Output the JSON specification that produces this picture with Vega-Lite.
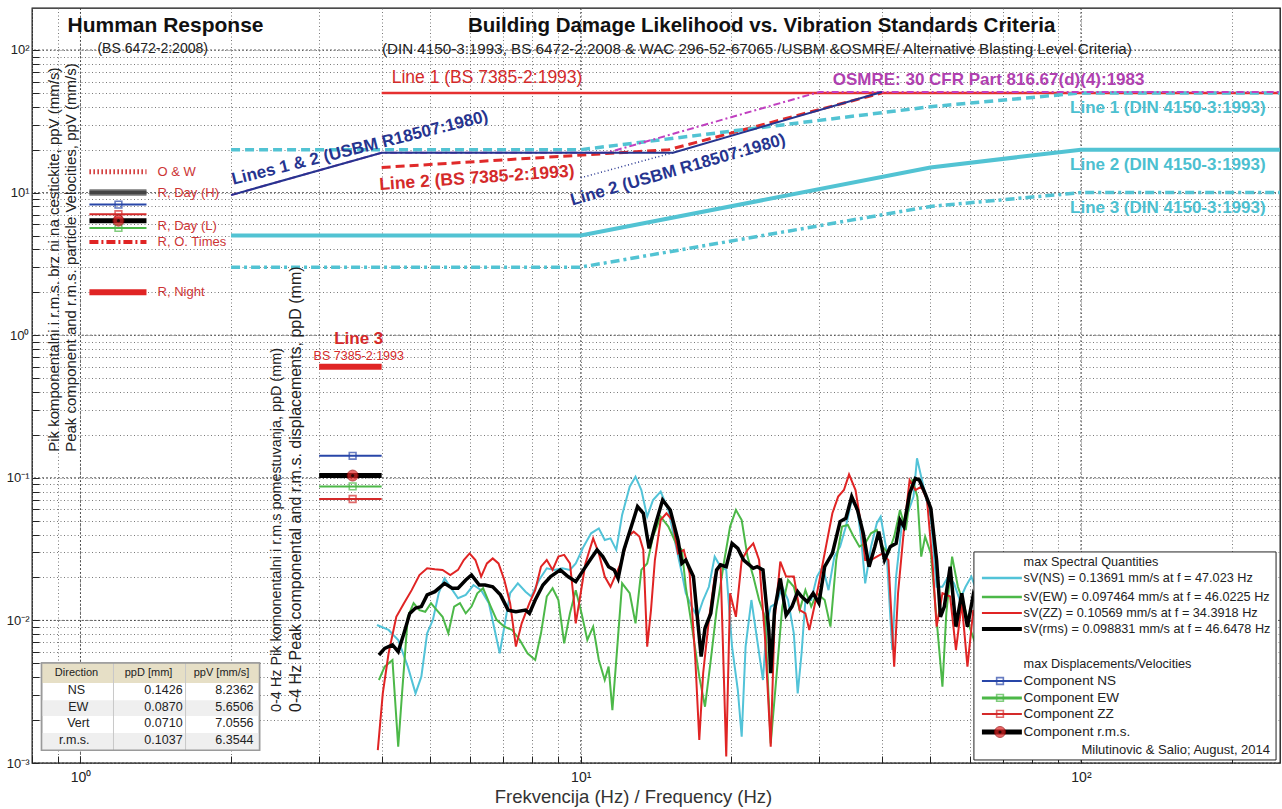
{
"$schema": "https://vega.github.io/schema/vega-lite/v6.json",
"width": 1248, "height": 755,
"autosize": {"type": "none"},
"padding": {"left": 32, "top": 8, "right": 2, "bottom": 46},
"background": "white",
"config": {"view": {"stroke": "#111", "strokeWidth": 1.3}, "font": "Liberation Sans"},
"data": {"values": [{}]},
"datasets": {
"decY": [{"d":0.001},{"d":0.01},{"d":0.1},{"d":1},{"d":10},{"d":100}],
"decX": [{"d":1},{"d":10},{"d":100}],
"tbl": [
{"c":"NS","ppD":0.1426,"ppV":8.2362},
{"c":"EW","ppD":0.0870,"ppV":5.6506},
{"c":"Vert","ppD":0.0710,"ppV":7.0556},
{"c":"r.m.s.","ppD":0.1037,"ppV":6.3544}
],
"hr": [
{"r":"O & W","v":14},
{"r":"R, Day (H)","v":10},
{"r":"R, Day (L)","v":5.8},
{"r":"R, O. Times","v":4.5},
{"r":"R, Night","v":2}
],
"crit": [
{"s":"BS1","f":4,"v":50},{"s":"BS1","f":250,"v":50},
{"s":"OSMRE","f":2,"v":9.6},{"s":"OSMRE","f":4,"v":19.05},{"s":"OSMRE","f":11.3,"v":19.05},{"s":"OSMRE","f":30,"v":50.8},{"s":"OSMRE","f":250,"v":50.8},
{"s":"USBM1","f":2,"v":9.6},{"s":"USBM1","f":4,"v":19.05},{"s":"USBM1","f":15.3,"v":19.05},{"s":"USBM1","f":40,"v":50.8},
{"s":"USBM2","f":10,"v":12.7},{"s":"USBM2","f":15.3,"v":19.05},
{"s":"BS2","f":4,"v":15},{"s":"BS2","f":15,"v":20},{"s":"BS2","f":40,"v":50},
{"s":"DIN1","f":2,"v":20},{"s":"DIN1","f":10,"v":20},{"s":"DIN1","f":50,"v":40},{"s":"DIN1","f":100,"v":50},{"s":"DIN1","f":250,"v":50},
{"s":"DIN2","f":2,"v":5},{"s":"DIN2","f":10,"v":5},{"s":"DIN2","f":50,"v":15},{"s":"DIN2","f":100,"v":20},{"s":"DIN2","f":250,"v":20},
{"s":"DIN3","f":2,"v":3},{"s":"DIN3","f":10,"v":3},{"s":"DIN3","f":50,"v":8},{"s":"DIN3","f":100,"v":10},{"s":"DIN3","f":250,"v":10},
{"s":"BS3","f":3,"v":0.6},{"s":"BS3","f":4,"v":0.6}
],
"spec": [
{"c":"NS","f":3.915,"v":0.00929},{"c":"NS","f":4.130,"v":0.00857},{"c":"NS","f":4.317,"v":0.00729},{"c":"NS","f":4.512,"v":0.00474},{"c":"NS","f":4.676,"v":0.00308},{"c":"NS","f":4.802,"v":0.00403},{"c":"NS","f":4.932,"v":0.00812},{"c":"NS","f":5.065,"v":0.0101},{"c":"NS","f":5.202,"v":0.0155},{"c":"NS","f":5.342,"v":0.0197},{"c":"NS","f":5.486,"v":0.0172},{"c":"NS","f":5.685,"v":0.0143},{"c":"NS","f":5.891,"v":0.0151},{"c":"NS","f":6.104,"v":0.0177},{"c":"NS","f":6.324,"v":0.0163},{"c":"NS","f":6.553,"v":0.0132},{"c":"NS","f":6.730,"v":0.00857},{"c":"NS","f":6.888,"v":0.00588},{"c":"NS","f":7.036,"v":0.00904},{"c":"NS","f":7.226,"v":0.0155},{"c":"NS","f":7.487,"v":0.0182},{"c":"NS","f":7.758,"v":0.0159},{"c":"NS","f":7.967,"v":0.0147},{"c":"NS","f":8.256,"v":0.0192},{"c":"NS","f":8.554,"v":0.0232},{"c":"NS","f":8.863,"v":0.0226},{"c":"NS","f":9.186,"v":0.0232},{"c":"NS","f":9.517,"v":0.0226},{"c":"NS","f":9.775,"v":0.0251},{"c":"NS","f":10.13,"v":0.0329},{"c":"NS","f":10.49,"v":0.0408},{"c":"NS","f":10.87,"v":0.0442},{"c":"NS","f":11.17,"v":0.0366},{"c":"NS","f":11.47,"v":0.0376},{"c":"NS","f":11.78,"v":0.0312},{"c":"NS","f":12.10,"v":0.0549},{"c":"NS","f":12.53,"v":0.0867},{"c":"NS","f":12.87,"v":0.1019},{"c":"NS","f":13.22,"v":0.0821},{"c":"NS","f":13.58,"v":0.0534},{"c":"NS","f":13.95,"v":0.0699},{"c":"NS","f":14.45,"v":0.0799},{"c":"NS","f":14.97,"v":0.0595},{"c":"NS","f":15.51,"v":0.0329},{"c":"NS","f":15.93,"v":0.0214},{"c":"NS","f":16.22,"v":0.0155},{"c":"NS","f":16.66,"v":0.0125},{"c":"NS","f":17.11,"v":0.0106},{"c":"NS","f":17.57,"v":0.0139},{"c":"NS","f":18.04,"v":0.0172},{"c":"NS","f":18.53,"v":0.0280},{"c":"NS","f":19.03,"v":0.0238},{"c":"NS","f":19.54,"v":0.0226},{"c":"NS","f":20.07,"v":0.00655},{"c":"NS","f":20.61,"v":0.00325},{"c":"NS","f":20.98,"v":0.00153},{"c":"NS","f":21.36,"v":0.00655},{"c":"NS","f":21.94,"v":0.0139},{"c":"NS","f":22.53,"v":0.00729},{"c":"NS","f":23.14,"v":0.00382},{"c":"NS","f":23.55,"v":0.00954},{"c":"NS","f":23.98,"v":0.0125},{"c":"NS","f":24.62,"v":0.0132},{"c":"NS","f":25.29,"v":0.0172},{"c":"NS","f":25.97,"v":0.0139},{"c":"NS","f":26.67,"v":0.00812},{"c":"NS","f":27.15,"v":0.00308},{"c":"NS","f":27.64,"v":0.00588},{"c":"NS","f":28.13,"v":0.0139},{"c":"NS","f":28.89,"v":0.0139},{"c":"NS","f":29.67,"v":0.0203},{"c":"NS","f":30.47,"v":0.0238},{"c":"NS","f":31.29,"v":0.0163},{"c":"NS","f":32.14,"v":0.0280},{"c":"NS","f":33.00,"v":0.0329},{"c":"NS","f":33.89,"v":0.0455},{"c":"NS","f":34.81,"v":0.0699},{"c":"NS","f":35.75,"v":0.0595},{"c":"NS","f":36.39,"v":0.0366},{"c":"NS","f":37.04,"v":0.0182},{"c":"NS","f":38.05,"v":0.0329},{"c":"NS","f":39.08,"v":0.0480},{"c":"NS","f":39.78,"v":0.0534},{"c":"NS","f":40.85,"v":0.0312},{"c":"NS","f":41.96,"v":0.00620},{"c":"NS","f":42.71,"v":0.0203},{"c":"NS","f":43.87,"v":0.0480},{"c":"NS","f":45.05,"v":0.0564},{"c":"NS","f":46.27,"v":0.0738},{"c":"NS","f":47.02,"v":0.1369},{"c":"NS","f":48.1,"v":0.0965},{"c":"NS","f":50.11,"v":0.0520},{"c":"NS","f":51.46,"v":0.0172},{"c":"NS","f":52.86,"v":0.0172},{"c":"NS","f":54.30,"v":0.0203},{"c":"NS","f":55.75,"v":0.0182},{"c":"NS","f":57.26,"v":0.0139},{"c":"NS","f":58.80,"v":0.0172},{"c":"NS","f":60.39,"v":0.0203},{"c":"NS","f":61.47,"v":0.0172},
{"c":"EW","f":3.950,"v":0.00382},{"c":"EW","f":4.056,"v":0.00474},{"c":"EW","f":4.204,"v":0.00528},{"c":"EW","f":4.317,"v":0.00130},{"c":"EW","f":4.394,"v":0.00308},{"c":"EW","f":4.512,"v":0.0106},{"c":"EW","f":4.634,"v":0.0132},{"c":"EW","f":4.760,"v":0.0118},{"c":"EW","f":4.889,"v":0.0115},{"c":"EW","f":5.020,"v":0.0132},{"c":"EW","f":5.156,"v":0.0118},{"c":"EW","f":5.295,"v":0.0106},{"c":"EW","f":5.437,"v":0.00812},{"c":"EW","f":5.585,"v":0.0125},{"c":"EW","f":5.736,"v":0.0132},{"c":"EW","f":5.891,"v":0.0112},{"c":"EW","f":6.049,"v":0.0125},{"c":"EW","f":6.213,"v":0.0155},{"c":"EW","f":6.381,"v":0.0168},{"c":"EW","f":6.610,"v":0.0125},{"c":"EW","f":6.790,"v":0.0101},{"c":"EW","f":7.036,"v":0.00904},{"c":"EW","f":7.291,"v":0.00857},{"c":"EW","f":7.554,"v":0.00729},{"c":"EW","f":7.827,"v":0.00588},{"c":"EW","f":8.110,"v":0.00528},{"c":"EW","f":8.329,"v":0.00812},{"c":"EW","f":8.554,"v":0.0147},{"c":"EW","f":8.786,"v":0.0168},{"c":"EW","f":9.024,"v":0.0139},{"c":"EW","f":9.267,"v":0.00691},{"c":"EW","f":9.517,"v":0.0112},{"c":"EW","f":9.775,"v":0.0163},{"c":"EW","f":10.04,"v":0.0112},{"c":"EW","f":10.31,"v":0.00729},{"c":"EW","f":10.59,"v":0.00904},{"c":"EW","f":10.87,"v":0.00528},{"c":"EW","f":11.17,"v":0.00382},{"c":"EW","f":11.37,"v":0.00474},{"c":"EW","f":11.57,"v":0.00235},{"c":"EW","f":11.78,"v":0.00528},{"c":"EW","f":12.10,"v":0.0182},{"c":"EW","f":12.53,"v":0.0155},{"c":"EW","f":12.87,"v":0.00954},{"c":"EW","f":13.22,"v":0.0226},{"c":"EW","f":13.58,"v":0.0251},{"c":"EW","f":13.95,"v":0.0387},{"c":"EW","f":14.45,"v":0.0534},{"c":"EW","f":14.97,"v":0.0455},{"c":"EW","f":15.51,"v":0.0347},{"c":"EW","f":15.93,"v":0.0312},{"c":"EW","f":16.22,"v":0.0172},{"c":"EW","f":16.80,"v":0.00769},{"c":"EW","f":17.26,"v":0.00403},{"c":"EW","f":17.72,"v":0.00248},{"c":"EW","f":18.20,"v":0.00528},{"c":"EW","f":18.69,"v":0.0118},{"c":"EW","f":19.37,"v":0.0265},{"c":"EW","f":19.89,"v":0.0455},{"c":"EW","f":20.43,"v":0.0595},{"c":"EW","f":20.98,"v":0.0506},{"c":"EW","f":21.55,"v":0.0280},{"c":"EW","f":22.13,"v":0.0203},{"c":"EW","f":22.73,"v":0.0139},{"c":"EW","f":23.35,"v":0.0106},{"c":"EW","f":23.98,"v":0.00137},{"c":"EW","f":24.62,"v":0.00403},{"c":"EW","f":25.29,"v":0.0125},{"c":"EW","f":25.97,"v":0.0192},{"c":"EW","f":26.67,"v":0.0172},{"c":"EW","f":27.40,"v":0.0118},{"c":"EW","f":28.13,"v":0.0163},{"c":"EW","f":28.89,"v":0.0125},{"c":"EW","f":29.67,"v":0.0155},{"c":"EW","f":30.74,"v":0.0139},{"c":"EW","f":31.57,"v":0.00904},{"c":"EW","f":32.42,"v":0.0265},{"c":"EW","f":33.30,"v":0.0455},{"c":"EW","f":34.20,"v":0.0467},{"c":"EW","f":35.12,"v":0.0387},{"c":"EW","f":36.07,"v":0.0329},{"c":"EW","f":37.04,"v":0.0347},{"c":"EW","f":38.05,"v":0.0408},{"c":"EW","f":39.08,"v":0.0430},{"c":"EW","f":40.13,"v":0.0329},{"c":"EW","f":41.22,"v":0.0295},{"c":"EW","f":42.33,"v":0.0387},{"c":"EW","f":43.48,"v":0.0595},{"c":"EW","f":44.65,"v":0.0430},{"c":"EW","f":46.02,"v":0.0975},{"c":"EW","f":47.10,"v":0.0738},{"c":"EW","f":47.94,"v":0.0280},{"c":"EW","f":48.81,"v":0.0387},{"c":"EW","f":50.11,"v":0.0295},{"c":"EW","f":51.46,"v":0.0101},{"c":"EW","f":52.86,"v":0.00343},{"c":"EW","f":53.81,"v":0.0112},{"c":"EW","f":55.27,"v":0.0280},{"c":"EW","f":56.76,"v":0.0172},{"c":"EW","f":58.28,"v":0.0132},{"c":"EW","f":59.85,"v":0.00904},{"c":"EW","f":61.47,"v":0.00691},
{"c":"Vert","f":3.93,"v":0.00123},{"c":"Vert","f":4.021,"v":0.00308},{"c":"Vert","f":4.130,"v":0.00588},{"c":"Vert","f":4.279,"v":0.0106},{"c":"Vert","f":4.433,"v":0.0132},{"c":"Vert","f":4.593,"v":0.0163},{"c":"Vert","f":4.760,"v":0.0208},{"c":"Vert","f":4.932,"v":0.0232},{"c":"Vert","f":5.110,"v":0.0228},{"c":"Vert","f":5.295,"v":0.0226},{"c":"Vert","f":5.486,"v":0.0208},{"c":"Vert","f":5.685,"v":0.0226},{"c":"Vert","f":5.838,"v":0.0265},{"c":"Vert","f":5.996,"v":0.0295},{"c":"Vert","f":6.158,"v":0.0265},{"c":"Vert","f":6.324,"v":0.0203},{"c":"Vert","f":6.494,"v":0.0251},{"c":"Vert","f":6.670,"v":0.0272},{"c":"Vert","f":6.850,"v":0.0251},{"c":"Vert","f":7.036,"v":0.0192},{"c":"Vert","f":7.226,"v":0.0132},{"c":"Vert","f":7.421,"v":0.00655},{"c":"Vert","f":7.621,"v":0.00954},{"c":"Vert","f":7.897,"v":0.0132},{"c":"Vert","f":8.110,"v":0.0163},{"c":"Vert","f":8.329,"v":0.0238},{"c":"Vert","f":8.554,"v":0.0265},{"c":"Vert","f":8.786,"v":0.0226},{"c":"Vert","f":9.024,"v":0.0280},{"c":"Vert","f":9.267,"v":0.0288},{"c":"Vert","f":9.517,"v":0.0251},{"c":"Vert","f":9.687,"v":0.0139},{"c":"Vert","f":9.775,"v":0.00954},{"c":"Vert","f":9.949,"v":0.0139},{"c":"Vert","f":10.22,"v":0.0251},{"c":"Vert","f":10.59,"v":0.0376},{"c":"Vert","f":10.87,"v":0.0295},{"c":"Vert","f":11.17,"v":0.0203},{"c":"Vert","f":11.47,"v":0.0172},{"c":"Vert","f":11.78,"v":0.0214},{"c":"Vert","f":12.10,"v":0.0265},{"c":"Vert","f":12.42,"v":0.0387},{"c":"Vert","f":12.76,"v":0.0419},{"c":"Vert","f":13.10,"v":0.0387},{"c":"Vert","f":13.34,"v":0.0312},{"c":"Vert","f":13.58,"v":0.00655},{"c":"Vert","f":13.82,"v":0.0118},{"c":"Vert","f":14.07,"v":0.0265},{"c":"Vert","f":14.45,"v":0.0506},{"c":"Vert","f":14.84,"v":0.0564},{"c":"Vert","f":15.24,"v":0.0506},{"c":"Vert","f":15.65,"v":0.0295},{"c":"Vert","f":16.07,"v":0.0312},{"c":"Vert","f":16.51,"v":0.0214},{"c":"Vert","f":16.95,"v":0.00528},{"c":"Vert","f":17.26,"v":0.00145},{"c":"Vert","f":17.57,"v":0.00426},{"c":"Vert","f":18.04,"v":0.0101},{"c":"Vert","f":18.53,"v":0.0203},{"c":"Vert","f":19.03,"v":0.0251},{"c":"Vert","f":19.54,"v":0.00111},{"c":"Vert","f":19.89,"v":0.0155},{"c":"Vert","f":20.43,"v":0.0106},{"c":"Vert","f":20.98,"v":0.0265},{"c":"Vert","f":21.55,"v":0.0312},{"c":"Vert","f":22.13,"v":0.0347},{"c":"Vert","f":22.73,"v":0.0265},{"c":"Vert","f":23.35,"v":0.00769},{"c":"Vert","f":23.98,"v":0.00130},{"c":"Vert","f":24.41,"v":0.0101},{"c":"Vert","f":25.06,"v":0.0258},{"c":"Vert","f":25.74,"v":0.0203},{"c":"Vert","f":26.67,"v":0.0203},{"c":"Vert","f":27.40,"v":0.0118},{"c":"Vert","f":28.13,"v":0.0112},{"c":"Vert","f":28.64,"v":0.00857},{"c":"Vert","f":29.41,"v":0.0132},{"c":"Vert","f":30.20,"v":0.0214},{"c":"Vert","f":31.01,"v":0.0347},{"c":"Vert","f":31.85,"v":0.0564},{"c":"Vert","f":32.71,"v":0.0738},{"c":"Vert","f":33.59,"v":0.0821},{"c":"Vert","f":34.39,"v":0.1057},{"c":"Vert","f":35.43,"v":0.0821},{"c":"Vert","f":36.39,"v":0.0455},{"c":"Vert","f":37.04,"v":0.0265},{"c":"Vert","f":38.05,"v":0.0265},{"c":"Vert","f":39.08,"v":0.0280},{"c":"Vert","f":40.13,"v":0.0295},{"c":"Vert","f":41.22,"v":0.0265},{"c":"Vert","f":42.33,"v":0.00474},{"c":"Vert","f":43.09,"v":0.0155},{"c":"Vert","f":44.26,"v":0.0430},{"c":"Vert","f":45.45,"v":0.0965},{"c":"Vert","f":46.68,"v":0.0821},{"c":"Vert","f":47.94,"v":0.0867},{"c":"Vert","f":49.24,"v":0.0699},{"c":"Vert","f":50.56,"v":0.0238},{"c":"Vert","f":51.46,"v":0.00904},{"c":"Vert","f":52.86,"v":0.0155},{"c":"Vert","f":54.77,"v":0.0147},{"c":"Vert","f":56.25,"v":0.00620},{"c":"Vert","f":57.77,"v":0.0132},{"c":"Vert","f":59.31,"v":0.00474},{"c":"Vert","f":60.92,"v":0.0118},{"c":"Vert","f":61.47,"v":0.0106},
{"c":"r.m.s.","f":3.950,"v":0.00572},{"c":"r.m.s.","f":4.056,"v":0.00637},{"c":"r.m.s.","f":4.204,"v":0.00673},{"c":"r.m.s.","f":4.317,"v":0.00604},{"c":"r.m.s.","f":4.433,"v":0.00812},{"c":"r.m.s.","f":4.553,"v":0.0112},{"c":"r.m.s.","f":4.676,"v":0.0122},{"c":"r.m.s.","f":4.802,"v":0.0125},{"c":"r.m.s.","f":4.932,"v":0.0151},{"c":"r.m.s.","f":5.110,"v":0.0159},{"c":"r.m.s.","f":5.342,"v":0.0182},{"c":"r.m.s.","f":5.535,"v":0.0168},{"c":"r.m.s.","f":5.685,"v":0.0168},{"c":"r.m.s.","f":5.891,"v":0.0192},{"c":"r.m.s.","f":6.049,"v":0.0208},{"c":"r.m.s.","f":6.269,"v":0.0177},{"c":"r.m.s.","f":6.438,"v":0.0177},{"c":"r.m.s.","f":6.670,"v":0.0172},{"c":"r.m.s.","f":6.911,"v":0.0151},{"c":"r.m.s.","f":7.161,"v":0.0118},{"c":"r.m.s.","f":7.421,"v":0.0115},{"c":"r.m.s.","f":7.758,"v":0.0118},{"c":"r.m.s.","f":7.897,"v":0.0112},{"c":"r.m.s.","f":8.110,"v":0.0139},{"c":"r.m.s.","f":8.404,"v":0.0177},{"c":"r.m.s.","f":8.708,"v":0.0203},{"c":"r.m.s.","f":9.103,"v":0.0226},{"c":"r.m.s.","f":9.432,"v":0.0203},{"c":"r.m.s.","f":9.775,"v":0.0187},{"c":"r.m.s.","f":10.13,"v":0.0226},{"c":"r.m.s.","f":10.49,"v":0.0272},{"c":"r.m.s.","f":10.78,"v":0.0312},{"c":"r.m.s.","f":11.07,"v":0.0280},{"c":"r.m.s.","f":11.37,"v":0.0238},{"c":"r.m.s.","f":11.67,"v":0.0226},{"c":"r.m.s.","f":11.88,"v":0.0197},{"c":"r.m.s.","f":12.20,"v":0.0312},{"c":"r.m.s.","f":12.65,"v":0.0467},{"c":"r.m.s.","f":12.99,"v":0.0628},{"c":"r.m.s.","f":13.34,"v":0.0564},{"c":"r.m.s.","f":13.70,"v":0.0320},{"c":"r.m.s.","f":14.07,"v":0.0455},{"c":"r.m.s.","f":14.58,"v":0.0699},{"c":"r.m.s.","f":15.10,"v":0.0595},{"c":"r.m.s.","f":15.65,"v":0.0366},{"c":"r.m.s.","f":15.93,"v":0.0251},{"c":"r.m.s.","f":16.22,"v":0.0265},{"c":"r.m.s.","f":16.80,"v":0.0203},{"c":"r.m.s.","f":17.41,"v":0.00557},{"c":"r.m.s.","f":17.72,"v":0.00880},{"c":"r.m.s.","f":18.20,"v":0.0112},{"c":"r.m.s.","f":18.69,"v":0.0226},{"c":"r.m.s.","f":19.03,"v":0.0245},{"c":"r.m.s.","f":19.54,"v":0.0238},{"c":"r.m.s.","f":20.07,"v":0.0347},{"c":"r.m.s.","f":20.61,"v":0.0320},{"c":"r.m.s.","f":21.17,"v":0.0265},{"c":"r.m.s.","f":22.13,"v":0.0232},{"c":"r.m.s.","f":22.53,"v":0.0238},{"c":"r.m.s.","f":23.14,"v":0.0226},{"c":"r.m.s.","f":23.77,"v":0.00857},{"c":"r.m.s.","f":23.98,"v":0.00426},{"c":"r.m.s.","f":24.41,"v":0.0118},{"c":"r.m.s.","f":25.06,"v":0.0197},{"c":"r.m.s.","f":25.74,"v":0.0109},{"c":"r.m.s.","f":26.44,"v":0.0125},{"c":"r.m.s.","f":27.15,"v":0.0159},{"c":"r.m.s.","f":27.64,"v":0.0147},{"c":"r.m.s.","f":28.38,"v":0.0135},{"c":"r.m.s.","f":29.15,"v":0.0155},{"c":"r.m.s.","f":29.94,"v":0.0132},{"c":"r.m.s.","f":30.74,"v":0.0238},{"c":"r.m.s.","f":31.85,"v":0.0295},{"c":"r.m.s.","f":33.00,"v":0.0493},{"c":"r.m.s.","f":33.89,"v":0.0520},{"c":"r.m.s.","f":34.81,"v":0.0738},{"c":"r.m.s.","f":35.75,"v":0.0595},{"c":"r.m.s.","f":36.72,"v":0.0408},{"c":"r.m.s.","f":37.71,"v":0.0238},{"c":"r.m.s.","f":38.73,"v":0.0329},{"c":"r.m.s.","f":39.43,"v":0.0419},{"c":"r.m.s.","f":40.49,"v":0.0265},{"c":"r.m.s.","f":41.58,"v":0.0329},{"c":"r.m.s.","f":42.71,"v":0.0347},{"c":"r.m.s.","f":43.48,"v":0.0506},{"c":"r.m.s.","f":44.26,"v":0.0455},{"c":"r.m.s.","f":45.45,"v":0.0778},{"c":"r.m.s.","f":46.65,"v":0.0988},{"c":"r.m.s.","f":47.52,"v":0.0965},{"c":"r.m.s.","f":48.81,"v":0.0778},{"c":"r.m.s.","f":50.11,"v":0.0611},{"c":"r.m.s.","f":51.46,"v":0.0265},{"c":"r.m.s.","f":52.38,"v":0.0106},{"c":"r.m.s.","f":53.33,"v":0.0125},{"c":"r.m.s.","f":54.77,"v":0.0238},{"c":"r.m.s.","f":56.25,"v":0.00904},{"c":"r.m.s.","f":57.77,"v":0.0155},{"c":"r.m.s.","f":59.31,"v":0.00904},{"c":"r.m.s.","f":60.92,"v":0.0151},{"c":"r.m.s.","f":61.47,"v":0.0139}
]
},
"layer": [
{"data": {"name": "decY"},
 "mark": {"type": "rule", "color": "#333", "strokeWidth": 1, "strokeDash": [2,2], "opacity": 0.75},
 "encoding": {
  "y": {"field": "d", "type": "quantitative", "scale": {"type": "log", "domain": [0.001, 197], "nice": false},
   "axis": {"values": [0.001,0.002,0.003,0.004,0.005,0.006,0.007,0.008,0.009,0.01,0.02,0.03,0.04,0.05,0.06,0.07,0.08,0.09,0.1,0.2,0.3,0.4,0.5,0.6,0.7,0.8,0.9,1,2,3,4,5,6,7,8,9,10,20,30,40,50,60,70,80,90,100],
    "labelExpr": "datum.value==0.001?'10\u207b\u00b3':datum.value==0.01?'10\u207b\u00b2':datum.value==0.1?'10\u207b\u00b9':datum.value==1?'10\u2070':datum.value==10?'10\u00b9':datum.value==100?'10\u00b2':''",
    "labelFontSize": 13, "labelColor": "#222", "labelPadding": 10, "labelOverlap": false, "labelFlush": false,
    "grid": true, "gridDash": [1,2.5], "gridColor": "#6a6a6a", "gridOpacity": 0.9, "gridWidth": 1,
    "ticks": true, "tickColor": "#222", "tickSize": -7, "tickWidth": 1,
    "domain": false, "title": null}}
 }},
{"data": {"name": "decX"},
 "mark": {"type": "rule", "color": "#333", "strokeWidth": 1, "strokeDash": [2,2], "opacity": 0.75},
 "encoding": {
  "x": {"field": "d", "type": "quantitative", "scale": {"type": "log", "domain": [0.8, 250], "nice": false},
   "axis": {"values": [0.8,0.9,1,2,3,4,5,6,7,8,9,10,20,30,40,50,60,70,80,90,100,200],
    "labelExpr": "datum.value==1?'10\u2070':datum.value==10?'10\u00b9':datum.value==100?'10\u00b2':''",
    "labelFontSize": 14, "labelColor": "#222", "labelPadding": 14, "labelOverlap": false, "labelFlush": false,
    "grid": true, "gridDash": [1,2.5], "gridColor": "#6a6a6a", "gridOpacity": 0.9, "gridWidth": 1,
    "ticks": true, "tickColor": "#222", "tickSize": -7, "tickWidth": 1,
    "domain": false,
    "title": "Frekvencija (Hz) / Frequency (Hz)", "titleFontSize": 18.5, "titleFontWeight": "normal", "titleColor": "#333",
    "titleX": 601, "titleY": 33, "titleAlign": "center", "titleBaseline": "middle"}}
 }},
{"data": {"name": "spec"}, "transform": [{"filter": "datum.c != 'r.m.s.'"}],
 "mark": {"type": "line", "strokeWidth": 2, "clip": true},
 "encoding": {
  "x": {"field": "f", "type": "quantitative"},
  "y": {"field": "v", "type": "quantitative"},
  "color": {"field": "c", "type": "nominal", "scale": {"domain": ["NS","EW","Vert","r.m.s."], "range": ["#52c3d8","#4cb848","#e02424","#000000"]}, "legend": null}
 }},
{"data": {"name": "spec"}, "transform": [{"filter": "datum.c == 'r.m.s.'"}],
 "mark": {"type": "line", "strokeWidth": 3.5, "color": "#000", "clip": true},
 "encoding": {"x": {"field": "f", "type": "quantitative"}, "y": {"field": "v", "type": "quantitative"}}},
{"data": {"name": "crit"}, "transform": [{"filter": "datum.s == 'DIN2'"}], "mark": {"type": "line", "color": "#52c3d3", "strokeWidth": 4, "clip": true}, "encoding": {"x": {"field": "f", "type": "quantitative"}, "y": {"field": "v", "type": "quantitative"}}},
{"data": {"name": "crit"}, "transform": [{"filter": "datum.s == 'DIN3'"}], "mark": {"type": "line", "color": "#52c3d3", "strokeWidth": 3.5, "strokeDash": [9,4,3,4], "clip": true}, "encoding": {"x": {"field": "f", "type": "quantitative"}, "y": {"field": "v", "type": "quantitative"}}},
{"data": {"name": "crit"}, "transform": [{"filter": "datum.s == 'BS2'"}], "mark": {"type": "line", "color": "#e02a2a", "strokeWidth": 3, "strokeDash": [9,5], "clip": true}, "encoding": {"x": {"field": "f", "type": "quantitative"}, "y": {"field": "v", "type": "quantitative"}}},
{"data": {"name": "crit"}, "transform": [{"filter": "datum.s == 'USBM2'"}], "mark": {"type": "line", "color": "#26348f", "strokeWidth": 1.5, "strokeDash": [1,2.5], "clip": true}, "encoding": {"x": {"field": "f", "type": "quantitative"}, "y": {"field": "v", "type": "quantitative"}}},
{"data": {"name": "crit"}, "transform": [{"filter": "datum.s == 'BS1'"}], "mark": {"type": "line", "color": "#e53030", "strokeWidth": 2.5, "clip": true}, "encoding": {"x": {"field": "f", "type": "quantitative"}, "y": {"field": "v", "type": "quantitative"}}},
{"data": {"name": "crit"}, "transform": [{"filter": "datum.s == 'DIN1'"}], "mark": {"type": "line", "color": "#52c3d3", "strokeWidth": 3.5, "strokeDash": [9,5], "clip": true}, "encoding": {"x": {"field": "f", "type": "quantitative"}, "y": {"field": "v", "type": "quantitative"}}},
{"data": {"name": "crit"}, "transform": [{"filter": "datum.s == 'OSMRE'"}], "mark": {"type": "line", "color": "#c040c0", "strokeWidth": 2, "strokeDash": [7,3,2,3], "clip": true}, "encoding": {"x": {"field": "f", "type": "quantitative"}, "y": {"field": "v", "type": "quantitative"}}},
{"data": {"name": "crit"}, "transform": [{"filter": "datum.s == 'USBM1'"}], "mark": {"type": "line", "color": "#26348f", "strokeWidth": 2, "clip": true}, "encoding": {"x": {"field": "f", "type": "quantitative"}, "y": {"field": "v", "type": "quantitative"}}},
{"data": {"name": "crit"}, "transform": [{"filter": "datum.s == 'BS3'"}], "mark": {"type": "line", "color": "#e02424", "strokeWidth": 6, "clip": true}, "encoding": {"x": {"field": "f", "type": "quantitative"}, "y": {"field": "v", "type": "quantitative"}}},

{"data": {"name": "hr"}, "transform": [{"filter": "datum.r == 'O & W'"}], "mark": {"type": "rule", "color": "#d03030", "strokeWidth": 5, "strokeDash": [1.5,2.5]}, "encoding": {"x": {"datum": 1.042}, "x2": {"datum": 1.355}, "y": {"field": "v", "type": "quantitative"}}},
{"data": {"name": "hr"}, "transform": [{"filter": "datum.r == 'R, Day (H)'"}], "mark": {"type": "rule", "color": "#999", "strokeWidth": 7}, "encoding": {"x": {"datum": 1.042}, "x2": {"datum": 1.355}, "y": {"field": "v", "type": "quantitative"}}},
{"data": {"name": "hr"}, "transform": [{"filter": "datum.r == 'R, Day (H)'"}], "mark": {"type": "rule", "color": "#444", "strokeWidth": 4}, "encoding": {"x": {"datum": 1.042}, "x2": {"datum": 1.355}, "y": {"field": "v", "type": "quantitative"}}},
{"data": {"name": "hr"}, "transform": [{"filter": "datum.r == 'R, O. Times'"}], "mark": {"type": "rule", "color": "#e02424", "strokeWidth": 4, "strokeDash": [9,3,2,3]}, "encoding": {"x": {"datum": 1.042}, "x2": {"datum": 1.355}, "y": {"field": "v", "type": "quantitative"}}},
{"data": {"name": "hr"}, "transform": [{"filter": "datum.r == 'R, Night'"}], "mark": {"type": "rule", "color": "#e02424", "strokeWidth": 6}, "encoding": {"x": {"datum": 1.042}, "x2": {"datum": 1.355}, "y": {"field": "v", "type": "quantitative"}}},
{"data": {"name": "hr"}, "mark": {"type": "text", "align": "left", "baseline": "middle", "fontSize": 13, "color": "#cc3434"}, "encoding": {"x": {"datum": 1.426}, "y": {"field": "v", "type": "quantitative"}, "text": {"field": "r"}}},

{"data": {"name": "tbl"}, "transform": [{"filter": "datum.c != 'r.m.s.'"}], "mark": {"type": "rule", "strokeWidth": 2}, "encoding": {"x": {"datum": 1.042}, "x2": {"datum": 1.355}, "y": {"field": "ppV", "type": "quantitative"}, "stroke": {"field": "c", "type": "nominal", "scale": {"domain": ["NS","EW","Vert"], "range": ["#2846a8","#4cb848","#d42a2a"]}, "legend": null}}},
{"data": {"name": "tbl"}, "transform": [{"filter": "datum.c == 'r.m.s.'"}], "mark": {"type": "rule", "strokeWidth": 5, "color": "#000"}, "encoding": {"x": {"datum": 1.042}, "x2": {"datum": 1.355}, "y": {"field": "ppV", "type": "quantitative"}}},
{"data": {"name": "tbl"}, "transform": [{"filter": "datum.c != 'r.m.s.'"}], "mark": {"type": "point", "shape": "square", "filled": false, "size": 45, "strokeWidth": 1.6}, "encoding": {"x": {"datum": 1.191}, "y": {"field": "ppV", "type": "quantitative"}, "stroke": {"field": "c", "type": "nominal", "scale": {"domain": ["NS","EW","Vert"], "range": ["#2846a8","#4cb848","#d42a2a"]}, "legend": null}}},
{"data": {"name": "tbl"}, "transform": [{"filter": "datum.c == 'r.m.s.'"}], "mark": {"type": "point", "shape": "circle", "filled": true, "size": 120, "color": "#e02424", "stroke": "#900", "strokeWidth": 1}, "encoding": {"x": {"datum": 1.191}, "y": {"field": "ppV", "type": "quantitative"}}},
{"data": {"name": "tbl"}, "transform": [{"filter": "datum.c == 'r.m.s.'"}], "mark": {"type": "point", "shape": "circle", "filled": true, "size": 10, "color": "#000"}, "encoding": {"x": {"datum": 1.191}, "y": {"field": "ppV", "type": "quantitative"}}},

{"data": {"name": "tbl"}, "transform": [{"filter": "datum.c != 'r.m.s.'"}], "mark": {"type": "rule", "strokeWidth": 2}, "encoding": {"x": {"datum": 3}, "x2": {"datum": 4}, "y": {"field": "ppD", "type": "quantitative"}, "stroke": {"field": "c", "type": "nominal", "scale": {"domain": ["NS","EW","Vert"], "range": ["#2846a8","#4cb848","#d42a2a"]}, "legend": null}}},
{"data": {"name": "tbl"}, "transform": [{"filter": "datum.c == 'r.m.s.'"}], "mark": {"type": "rule", "strokeWidth": 5, "color": "#000"}, "encoding": {"x": {"datum": 3}, "x2": {"datum": 4}, "y": {"field": "ppD", "type": "quantitative"}}},
{"data": {"name": "tbl"}, "transform": [{"filter": "datum.c != 'r.m.s.'"}], "mark": {"type": "point", "shape": "square", "filled": false, "size": 45, "strokeWidth": 1.6}, "encoding": {"x": {"datum": 3.5}, "y": {"field": "ppD", "type": "quantitative"}, "stroke": {"field": "c", "type": "nominal", "scale": {"domain": ["NS","EW","Vert"], "range": ["#2846a8","#4cb848","#d42a2a"]}, "legend": null}}},
{"data": {"name": "tbl"}, "transform": [{"filter": "datum.c == 'r.m.s.'"}], "mark": {"type": "point", "shape": "circle", "filled": true, "size": 120, "color": "#e02424", "stroke": "#900", "strokeWidth": 1}, "encoding": {"x": {"datum": 3.5}, "y": {"field": "ppD", "type": "quantitative"}}},
{"data": {"name": "tbl"}, "transform": [{"filter": "datum.c == 'r.m.s.'"}], "mark": {"type": "point", "shape": "circle", "filled": true, "size": 10, "color": "#000"}, "encoding": {"x": {"datum": 3.5}, "y": {"field": "ppD", "type": "quantitative"}}},

{"mark": {"type": "text", "text": "Humman Response", "fontSize": 21, "fontWeight": "bold", "align": "left", "baseline": "middle", "color": "#111"}, "encoding": {"x": {"datum": 0.942}, "y": {"datum": 147}}},
{"mark": {"type": "text", "text": "(BS 6472-2:2008)", "fontSize": 14, "align": "left", "baseline": "middle", "color": "#222"}, "encoding": {"x": {"datum": 1.081}, "y": {"datum": 101}}},
{"mark": {"type": "text", "text": "Building Damage Likelihood vs. Vibration Standards Criteria", "fontSize": 20.5, "fontWeight": "bold", "align": "center", "baseline": "middle", "color": "#111"}, "encoding": {"x": {"datum": 23.0}, "y": {"datum": 147}}},
{"mark": {"type": "text", "text": "(DIN 4150-3:1993, BS 6472-2:2008 & WAC 296-52-67065 /USBM &OSMRE/ Alternative Blasting Level Criteria)", "fontSize": 15.2, "align": "center", "baseline": "middle", "color": "#222"}, "encoding": {"x": {"datum": 22.5}, "y": {"datum": 101}}},
{"mark": {"type": "text", "text": "Line 1 (BS 7385-2:1993)", "fontSize": 17.5, "align": "left", "baseline": "middle", "color": "#d42a2a"}, "encoding": {"x": {"datum": 4.19}, "y": {"datum": 63.7}}},
{"mark": {"type": "text", "text": "OSMRE: 30 CFR Part 816.67(d)(4):1983", "fontSize": 17, "fontWeight": "bold", "align": "left", "baseline": "middle", "color": "#b040b0"}, "encoding": {"x": {"datum": 31.9}, "y": {"datum": 61.6}}},
{"mark": {"type": "text", "text": "Lines 1 & 2 (USBM R18507:1980)", "fontSize": 17, "fontWeight": "bold", "align": "center", "baseline": "middle", "angle": -14, "color": "#26348f"}, "encoding": {"x": {"datum": 3.62}, "y": {"datum": 20.5}}},
{"mark": {"type": "text", "text": "Line 2 (BS 7385-2:1993)", "fontSize": 17.5, "fontWeight": "bold", "align": "center", "baseline": "middle", "angle": -4, "color": "#d42a2a"}, "encoding": {"x": {"datum": 6.2}, "y": {"datum": 12.6}}},
{"mark": {"type": "text", "text": "Line 2 (USBM R18507:1980)", "fontSize": 17, "fontWeight": "bold", "align": "center", "baseline": "middle", "angle": -16, "color": "#26348f"}, "encoding": {"x": {"datum": 15.65}, "y": {"datum": 14.4}}},
{"mark": {"type": "text", "text": "Line 1  (DIN 4150-3:1993)", "fontSize": 17, "fontWeight": "bold", "align": "left", "baseline": "middle", "color": "#4cc0d0"}, "encoding": {"x": {"datum": 95.1}, "y": {"datum": 39.2}}},
{"mark": {"type": "text", "text": "Line 2  (DIN 4150-3:1993)", "fontSize": 17, "fontWeight": "bold", "align": "left", "baseline": "middle", "color": "#4cc0d0"}, "encoding": {"x": {"datum": 95.1}, "y": {"datum": 15.6}}},
{"mark": {"type": "text", "text": "Line 3  (DIN 4150-3:1993)", "fontSize": 17, "fontWeight": "bold", "align": "left", "baseline": "middle", "color": "#4cc0d0"}, "encoding": {"x": {"datum": 95.1}, "y": {"datum": 7.8}}},
{"mark": {"type": "text", "text": "Line 3", "fontSize": 17, "fontWeight": "bold", "align": "center", "baseline": "middle", "color": "#d42a2a"}, "encoding": {"x": {"datum": 3.6}, "y": {"datum": 0.94}}},
{"mark": {"type": "text", "text": "BS 7385-2:1993", "fontSize": 12.5, "align": "center", "baseline": "middle", "color": "#d42a2a"}, "encoding": {"x": {"datum": 3.6}, "y": {"datum": 0.714}}},
{"mark": {"type": "text", "text": "Pik komponentalni i r.m.s. brz ni na cestickite, ppV (mm/s)", "fontSize": 15, "align": "left", "baseline": "middle", "angle": -90, "color": "#222"}, "encoding": {"x": {"datum": 0.887}, "y": {"datum": 0.152}}},
{"mark": {"type": "text", "text": "Peak component and r.m.s. particle Velocities, ppV (mm/s)", "fontSize": 15, "align": "left", "baseline": "middle", "angle": -90, "color": "#222"}, "encoding": {"x": {"datum": 0.959}, "y": {"datum": 0.152}}},
{"mark": {"type": "text", "text": "0-4 Hz Pik komonentalni i r.m.s pomestuvanja, ppD (mm)", "fontSize": 14.4, "align": "left", "baseline": "middle", "angle": -90, "color": "#222"}, "encoding": {"x": {"datum": 2.466}, "y": {"datum": 0.00228}}},
{"mark": {"type": "text", "text": "0-4 Hz Peak componental and r.m.s. displacements, ppD (mm)", "fontSize": 16, "align": "left", "baseline": "middle", "angle": -90, "color": "#222"}, "encoding": {"x": {"datum": 2.692}, "y": {"datum": 0.00228}}},

{"mark": {"type": "rect", "fill": "#ffffff", "stroke": "#9a9a9a", "strokeWidth": 1.5}, "encoding": {"x": {"datum": 0.836}, "x2": {"datum": 2.28}, "y": {"datum": 0.00503}, "y2": {"datum": 0.00123}}},
{"mark": {"type": "rect", "fill": "#e6dfc6"}, "encoding": {"x": {"datum": 0.836}, "x2": {"datum": 2.28}, "y": {"datum": 0.00503}, "y2": {"datum": 0.00364}}},
{"mark": {"type": "rect", "fill": "#efefef"}, "encoding": {"x": {"datum": 0.836}, "x2": {"datum": 2.28}, "y": {"datum": 0.00276}, "y2": {"datum": 0.00214}}},
{"mark": {"type": "rect", "fill": "#efefef"}, "encoding": {"x": {"datum": 0.836}, "x2": {"datum": 2.28}, "y": {"datum": 0.00162}, "y2": {"datum": 0.00123}}},
{"mark": {"type": "rule", "color": "#c8c8c8", "strokeWidth": 1}, "encoding": {"x": {"datum": 1.164}, "y": {"datum": 0.00503}, "y2": {"datum": 0.00123}}},
{"mark": {"type": "rule", "color": "#c8c8c8", "strokeWidth": 1}, "encoding": {"x": {"datum": 1.622}, "y": {"datum": 0.00503}, "y2": {"datum": 0.00123}}},
{"mark": {"type": "rect", "fill": null, "stroke": "#9a9a9a", "strokeWidth": 1.5}, "encoding": {"x": {"datum": 0.836}, "x2": {"datum": 2.28}, "y": {"datum": 0.00503}, "y2": {"datum": 0.00123}}},
{"mark": {"type": "text", "text": "Direction", "fontSize": 11, "align": "center", "baseline": "middle", "color": "#222"}, "encoding": {"x": {"datum": 0.982}, "y": {"datum": 0.00428}}},
{"mark": {"type": "text", "text": "ppD [mm]", "fontSize": 11, "align": "center", "baseline": "middle", "color": "#222"}, "encoding": {"x": {"datum": 1.368}, "y": {"datum": 0.00428}}},
{"mark": {"type": "text", "text": "ppV [mm/s]", "fontSize": 11, "align": "center", "baseline": "middle", "color": "#222"}, "encoding": {"x": {"datum": 1.914}, "y": {"datum": 0.00428}}},
{"data": {"name": "tbl"}, "transform": [{"filter": "datum.c == 'NS'"}], "mark": {"type": "text", "fontSize": 12.5, "align": "center", "baseline": "middle", "color": "#222"}, "encoding": {"x": {"datum": 0.982}, "y": {"datum": 0.00325}, "text": {"field": "c"}}},
{"data": {"name": "tbl"}, "transform": [{"filter": "datum.c == 'NS'"}], "mark": {"type": "text", "fontSize": 12.5, "align": "right", "baseline": "middle", "color": "#222"}, "encoding": {"x": {"datum": 1.6}, "y": {"datum": 0.00325}, "text": {"field": "ppD", "format": ".4f"}}},
{"data": {"name": "tbl"}, "transform": [{"filter": "datum.c == 'NS'"}], "mark": {"type": "text", "fontSize": 12.5, "align": "right", "baseline": "middle", "color": "#222"}, "encoding": {"x": {"datum": 2.218}, "y": {"datum": 0.00325}, "text": {"field": "ppV", "format": ".4f"}}},
{"data": {"name": "tbl"}, "transform": [{"filter": "datum.c == 'EW'"}], "mark": {"type": "text", "fontSize": 12.5, "align": "center", "baseline": "middle", "color": "#222"}, "encoding": {"x": {"datum": 0.99}, "y": {"datum": 0.00247}, "text": {"field": "c"}}},
{"data": {"name": "tbl"}, "transform": [{"filter": "datum.c == 'EW'"}], "mark": {"type": "text", "fontSize": 12.5, "align": "right", "baseline": "middle", "color": "#222"}, "encoding": {"x": {"datum": 1.6}, "y": {"datum": 0.00247}, "text": {"field": "ppD", "format": ".4f"}}},
{"data": {"name": "tbl"}, "transform": [{"filter": "datum.c == 'EW'"}], "mark": {"type": "text", "fontSize": 12.5, "align": "right", "baseline": "middle", "color": "#222"}, "encoding": {"x": {"datum": 2.218}, "y": {"datum": 0.00247}, "text": {"field": "ppV", "format": ".4f"}}},
{"data": {"name": "tbl"}, "transform": [{"filter": "datum.c == 'Vert'"}], "mark": {"type": "text", "fontSize": 12.5, "align": "center", "baseline": "middle", "color": "#222"}, "encoding": {"x": {"datum": 0.99}, "y": {"datum": 0.00191}, "text": {"field": "c"}}},
{"data": {"name": "tbl"}, "transform": [{"filter": "datum.c == 'Vert'"}], "mark": {"type": "text", "fontSize": 12.5, "align": "right", "baseline": "middle", "color": "#222"}, "encoding": {"x": {"datum": 1.6}, "y": {"datum": 0.00191}, "text": {"field": "ppD", "format": ".4f"}}},
{"data": {"name": "tbl"}, "transform": [{"filter": "datum.c == 'Vert'"}], "mark": {"type": "text", "fontSize": 12.5, "align": "right", "baseline": "middle", "color": "#222"}, "encoding": {"x": {"datum": 2.218}, "y": {"datum": 0.00191}, "text": {"field": "ppV", "format": ".4f"}}},
{"data": {"name": "tbl"}, "transform": [{"filter": "datum.c == 'r.m.s.'"}], "mark": {"type": "text", "fontSize": 12.5, "align": "center", "baseline": "middle", "color": "#222"}, "encoding": {"x": {"datum": 0.972}, "y": {"datum": 0.00145}, "text": {"field": "c"}}},
{"data": {"name": "tbl"}, "transform": [{"filter": "datum.c == 'r.m.s.'"}], "mark": {"type": "text", "fontSize": 12.5, "align": "right", "baseline": "middle", "color": "#222"}, "encoding": {"x": {"datum": 1.6}, "y": {"datum": 0.00145}, "text": {"field": "ppD", "format": ".4f"}}},
{"data": {"name": "tbl"}, "transform": [{"filter": "datum.c == 'r.m.s.'"}], "mark": {"type": "text", "fontSize": 12.5, "align": "right", "baseline": "middle", "color": "#222"}, "encoding": {"x": {"datum": 2.218}, "y": {"datum": 0.00145}, "text": {"field": "ppV", "format": ".4f"}}},

{"mark": {"type": "rect", "fill": "#ffffff", "stroke": "#222", "strokeWidth": 1}, "encoding": {"x": {"datum": 61.1}, "x2": {"datum": 245.5}, "y": {"datum": 0.0302}, "y2": {"datum": 0.00105}}},
{"mark": {"type": "text", "text": "max Spectral Quantities", "fontSize": 12.7, "align": "left", "baseline": "middle", "color": "#222"}, "encoding": {"x": {"datum": 76.8}, "y": {"datum": 0.02567}}},
{"mark": {"type": "rule", "color": "#52c3d8", "strokeWidth": 2.5}, "encoding": {"x": {"datum": 63.4}, "x2": {"datum": 76.2}, "y": {"datum": 0.01983}}},
{"mark": {"type": "text", "text": "sV(NS) = 0.13691  mm/s at f = 47.023 Hz", "fontSize": 12.7, "align": "left", "baseline": "middle", "color": "#222"}, "encoding": {"x": {"datum": 76.8}, "y": {"datum": 0.01983}}},
{"mark": {"type": "rule", "color": "#4cb848", "strokeWidth": 2.5}, "encoding": {"x": {"datum": 63.4}, "x2": {"datum": 76.2}, "y": {"datum": 0.01459}}},
{"mark": {"type": "text", "text": "sV(EW) = 0.097464 mm/s at f = 46.0225 Hz", "fontSize": 12.7, "align": "left", "baseline": "middle", "color": "#222"}, "encoding": {"x": {"datum": 76.8}, "y": {"datum": 0.01459}}},
{"mark": {"type": "rule", "color": "#e02424", "strokeWidth": 2}, "encoding": {"x": {"datum": 63.4}, "x2": {"datum": 76.2}, "y": {"datum": 0.01127}}},
{"mark": {"type": "text", "text": "sV(ZZ) = 0.10569 mm/s at f = 34.3918 Hz", "fontSize": 12.7, "align": "left", "baseline": "middle", "color": "#222"}, "encoding": {"x": {"datum": 76.8}, "y": {"datum": 0.01127}}},
{"mark": {"type": "rule", "color": "#000", "strokeWidth": 4}, "encoding": {"x": {"datum": 63.4}, "x2": {"datum": 76.2}, "y": {"datum": 0.00871}}},
{"mark": {"type": "text", "text": "sV(rms) = 0.098831 mm/s at f = 46.6478 Hz", "fontSize": 12.7, "align": "left", "baseline": "middle", "color": "#222"}, "encoding": {"x": {"datum": 76.8}, "y": {"datum": 0.00871}}},
{"mark": {"type": "text", "text": "max Displacements/Velocities", "fontSize": 12.7, "align": "left", "baseline": "middle", "color": "#222"}, "encoding": {"x": {"datum": 76.8}, "y": {"datum": 0.00495}}},
{"mark": {"type": "rule", "color": "#2846a8", "strokeWidth": 2}, "encoding": {"x": {"datum": 63.4}, "x2": {"datum": 76.2}, "y": {"datum": 0.00376}}},
{"mark": {"type": "point", "shape": "square", "filled": false, "size": 45, "strokeWidth": 1.6, "stroke": "#2846a8"}, "encoding": {"x": {"datum": 68.9}, "y": {"datum": 0.00376}}},
{"mark": {"type": "text", "text": "Component NS", "fontSize": 13.5, "align": "left", "baseline": "middle", "color": "#222"}, "encoding": {"x": {"datum": 76.8}, "y": {"datum": 0.00376}}},
{"mark": {"type": "rule", "color": "#4cb848", "strokeWidth": 3}, "encoding": {"x": {"datum": 63.4}, "x2": {"datum": 76.2}, "y": {"datum": 0.00286}}},
{"mark": {"type": "point", "shape": "square", "filled": false, "size": 45, "strokeWidth": 1.6, "stroke": "#4cb848"}, "encoding": {"x": {"datum": 68.9}, "y": {"datum": 0.00286}}},
{"mark": {"type": "text", "text": "Component EW", "fontSize": 13.5, "align": "left", "baseline": "middle", "color": "#222"}, "encoding": {"x": {"datum": 76.8}, "y": {"datum": 0.00286}}},
{"mark": {"type": "rule", "color": "#d42a2a", "strokeWidth": 2}, "encoding": {"x": {"datum": 63.4}, "x2": {"datum": 76.2}, "y": {"datum": 0.00221}}},
{"mark": {"type": "point", "shape": "square", "filled": false, "size": 45, "strokeWidth": 1.6, "stroke": "#d42a2a"}, "encoding": {"x": {"datum": 68.9}, "y": {"datum": 0.00221}}},
{"mark": {"type": "text", "text": "Component ZZ", "fontSize": 13.5, "align": "left", "baseline": "middle", "color": "#222"}, "encoding": {"x": {"datum": 76.8}, "y": {"datum": 0.00221}}},
{"mark": {"type": "rule", "color": "#000", "strokeWidth": 5}, "encoding": {"x": {"datum": 63.4}, "x2": {"datum": 76.2}, "y": {"datum": 0.00165}}},
{"mark": {"type": "point", "shape": "circle", "filled": true, "size": 120, "color": "#e02424", "stroke": "#900", "strokeWidth": 1}, "encoding": {"x": {"datum": 68.9}, "y": {"datum": 0.00165}}},
{"mark": {"type": "point", "shape": "circle", "filled": true, "size": 10, "color": "#000"}, "encoding": {"x": {"datum": 68.9}, "y": {"datum": 0.00165}}},
{"mark": {"type": "text", "text": "Component r.m.s.", "fontSize": 13.5, "align": "left", "baseline": "middle", "color": "#222"}, "encoding": {"x": {"datum": 76.8}, "y": {"datum": 0.00165}}},
{"mark": {"type": "text", "text": "Milutinovic & Salio; August, 2014", "fontSize": 13, "align": "right", "baseline": "middle", "color": "#222"}, "encoding": {"x": {"datum": 238.8}, "y": {"datum": 0.00123}}}
]
}
